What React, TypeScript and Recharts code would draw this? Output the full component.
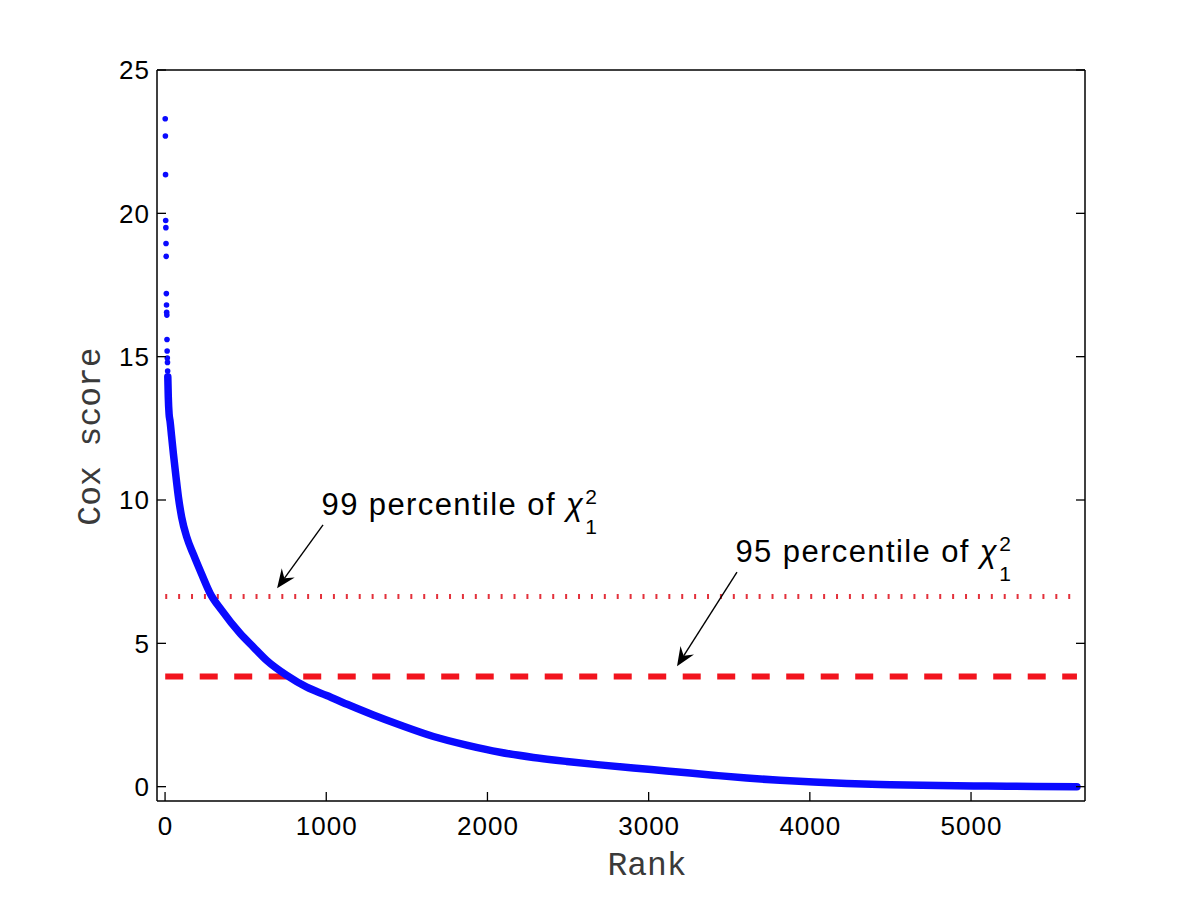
import { ComposedChart, Line, Scatter, XAxis, YAxis, ReferenceLine } from 'recharts';

const X_TICKS = [0, 1000, 2000, 3000, 4000, 5000];
const Y_TICKS = [0, 5, 10, 15, 20, 25];

// top ranked genes, drawn as separate dots
const topRanks = [1, 2, 3, 4, 5, 6, 7, 8, 9, 10, 11, 12, 13, 14, 15, 16, 17, 18, 19, 20, 21, 22, 23, 24, 25];
const topScores = [23.3, 22.7, 21.35, 19.75, 19.5, 18.95, 18.5, 17.2, 16.8, 16.55, 16.45, 15.6, 15.2, 14.95, 14.8, 14.5, 14.3, 14.1, 13.85, 13.6, 13.45, 13.3, 13.15, 13.0, 12.9];

// the dense part of the curve (points overlap into a thick band)
const curveRanks = [17, 20, 25, 31, 41, 52, 68, 83, 103, 135, 176, 228, 279, 352, 465, 548, 631, 755, 879, 1003, 1148, 1292, 1458, 1665, 1871, 2078, 2285, 2492, 2698, 2905, 3112, 3401, 3608, 3815, 4022, 4229, 4500, 4800, 5100, 5400, 5657];
const curveScores = [14.3, 13.6, 13.0, 12.75, 12.2, 11.6, 10.8, 10.1, 9.4, 8.7, 8.1, 7.4, 6.75, 6.15, 5.35, 4.87, 4.4, 3.88, 3.47, 3.18, 2.83, 2.5, 2.15, 1.75, 1.45, 1.2, 1.02, 0.88, 0.76, 0.65, 0.55, 0.4, 0.3, 0.22, 0.16, 0.11, 0.07, 0.04, 0.02, 0.01, 0];

const N_GENES = 5657;
const CHI2_99 = 6.635;
const CHI2_95 = 3.841;

// arrows: [start rank, start score, tip rank, tip score]
const arrow99 = [980, 9.13, 695, 6.92];
const arrow95 = [3548, 7.48, 3176, 4.2];

const topData = topRanks.map((rank, i) => ({ rank, score: topScores[i] }));
const curveData = curveRanks.map((rank, i) => ({ rank, score: curveScores[i] }));

const SANS = '"Liberation Sans", Arial, Helvetica, sans-serif';
const MONO = '"Liberation Mono", "Courier New", monospace';

const BottomTick = ({ x, y, payload }: any) => (
  <g>
    <line x1={x} y1={y} x2={x} y2={y - 9} stroke="#000" strokeWidth={1.3} />
    <text x={x + 0.5} y={y + 34} textAnchor="middle" fontSize={26} letterSpacing={1} fontFamily={SANS} fill="#000">{payload.value}</text>
  </g>
);

const LeftTick = ({ x, y, payload }: any) => (
  <g>
    <line x1={x} y1={y} x2={x + 9} y2={y} stroke="#000" strokeWidth={1.3} />
    <text x={x - 7} y={y} dy="0.36em" textAnchor="end" fontSize={26} letterSpacing={1} fontFamily={SANS} fill="#000">{payload.value}</text>
  </g>
);

const TopTick = ({ x, y }: any) => <line x1={x} y1={y} x2={x} y2={y + 9} stroke="#000" strokeWidth={1.3} />;
const RightTick = ({ x, y }: any) => <line x1={x} y1={y} x2={x - 9} y2={y} stroke="#000" strokeWidth={1.3} />;

const RankTitle = ({ viewBox }: any) => (
  <text x={viewBox.x + viewBox.width / 2 + 26} y={viewBox.y + 74} textAnchor="middle" fontSize={33} fontFamily={MONO} fill="#3a3a3a">Rank</text>
);

const CoxTitle = ({ viewBox }: any) => {
  const cx = viewBox.x + viewBox.width - 57;
  const cy = viewBox.y + viewBox.height / 2 + 1;
  return (
    <text x={cx} y={cy} transform={`rotate(-90 ${cx} ${cy})`} textAnchor="middle" fontSize={33} fontFamily={MONO} fill="#3a3a3a">Cox score</text>
  );
};

const makeArrow = (label: string) => (props: any) => {
  const { x1, y1, x2, y2 } = props;
  const len = Math.hypot(x2 - x1, y2 - y1);
  const ux = (x2 - x1) / len;
  const uy = (y2 - y1) / len;
  const nx = -uy;
  const ny = ux;
  const L = 19;
  const W = 8;
  const bx = x2 - ux * L;
  const by = y2 - uy * L;
  const mx = x2 - ux * L * 0.65;
  const my = y2 - uy * L * 0.65;
  const head = `${x2},${y2} ${bx + nx * W},${by + ny * W} ${mx},${my} ${bx - nx * W},${by - ny * W}`;
  return (
    <g>
      <line x1={x1} y1={y1} x2={mx} y2={my} stroke="#000" strokeWidth={1.4} />
      <polygon points={head} fill="#000" />
      <text x={x1 - 1.5} y={y1 - 10} fontSize={31} letterSpacing={1.4} fontFamily={SANS} fill="#000">
        {label} <tspan fontStyle="italic">χ</tspan>
        <tspan fontSize={21} letterSpacing={0} dx={1} dy={-11}>2</tspan>
        <tspan fontSize={21} letterSpacing={0} dx={-11.7} dy={30}>1</tspan>
      </text>
    </g>
  );
};

const axisLine = { stroke: '#000', strokeWidth: 1.5 };

export default function App() {
  return (
    <div style={{ position: 'absolute', left: 0, top: 0, width: 1200, height: 902, background: '#fff' }}>
      <ComposedChart width={1200} height={902} margin={{ top: 69, right: 114, bottom: 100, left: 156 }}>
        <XAxis
          xAxisId={0}
          type="number"
          dataKey="rank"
          domain={[-50, 5707]}
          ticks={X_TICKS}
          allowDataOverflow
          height={1}
          tickSize={0}
          tickMargin={0}
          tickLine={false}
          axisLine={axisLine}
          tick={<BottomTick />}
          label={RankTitle}
        />
        <XAxis
          xAxisId="top"
          orientation="top"
          type="number"
          domain={[-50, 5707]}
          ticks={X_TICKS}
          allowDataOverflow
          height={1}
          tickSize={0}
          tickMargin={0}
          tickLine={false}
          axisLine={axisLine}
          tick={<TopTick />}
        />
        <YAxis
          yAxisId={0}
          type="number"
          domain={[-0.5, 25]}
          ticks={Y_TICKS}
          allowDataOverflow
          width={1}
          tickSize={0}
          tickMargin={0}
          tickLine={false}
          axisLine={axisLine}
          tick={<LeftTick />}
          label={CoxTitle}
        />
        <YAxis
          yAxisId="right"
          orientation="right"
          type="number"
          domain={[-0.5, 25]}
          ticks={Y_TICKS}
          allowDataOverflow
          width={1}
          tickSize={0}
          tickMargin={0}
          tickLine={false}
          axisLine={axisLine}
          tick={<RightTick />}
        />
        <ReferenceLine
          segment={[{ x: 1, y: CHI2_99 }, { x: N_GENES, y: CHI2_99 }]}
          stroke="#e3313b"
          strokeWidth={5}
          strokeDasharray="2 10.9"
        />
        <ReferenceLine
          segment={[{ x: 1, y: CHI2_95 }, { x: N_GENES, y: CHI2_95 }]}
          stroke="#f2141e"
          strokeWidth={6}
          strokeDasharray="18 16.5"
        />
        <Line
          data={curveData}
          dataKey="score"
          type="monotone"
          stroke="#0a0aff"
          strokeWidth={7.5}
          strokeLinecap="round"
          strokeLinejoin="round"
          dot={false}
          activeDot={false}
          isAnimationActive={false}
        />
        <Scatter
          data={topData}
          dataKey="score"
          fill="#0a0aff"
          isAnimationActive={false}
          shape={(p: any) => <circle cx={p.cx} cy={p.cy} r={2.8} fill="#0a0aff" />}
        />
        <ReferenceLine
          segment={[{ x: arrow99[0], y: arrow99[1] }, { x: arrow99[2], y: arrow99[3] }]}
          shape={makeArrow('99 percentile of')}
        />
        <ReferenceLine
          segment={[{ x: arrow95[0], y: arrow95[1] }, { x: arrow95[2], y: arrow95[3] }]}
          shape={makeArrow('95 percentile of')}
        />
      </ComposedChart>
    </div>
  );
}
